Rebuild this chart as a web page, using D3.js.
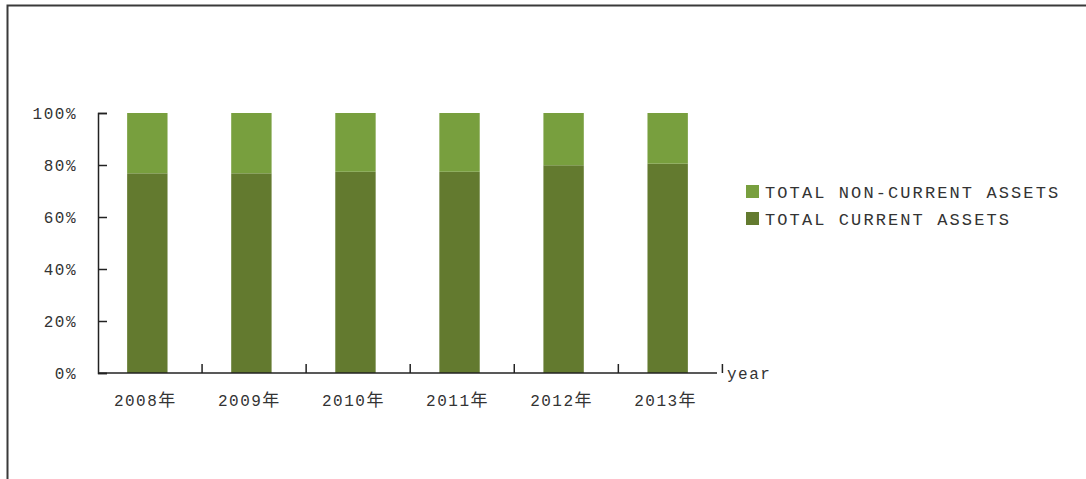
<!DOCTYPE html>
<html>
<head>
<meta charset="utf-8">
<script src="https://cdn.jsdelivr.net/npm/d3@7"></script>
<style>
  html, body { margin: 0; padding: 0; background: #fff; }
  svg { display: block; }
  .lbl { font-family: "Liberation Mono", "Cousine", "Courier New", "Liberation Serif", serif; }
  .cjk { font-family: "Noto Sans CJK SC", sans-serif; }
</style>
</head>
<body>
<svg id="chart" width="1086" height="479"></svg>
<script>
// Asset structure by year (share of total assets, %)
const years = ["2008", "2009", "2010", "2011", "2012", "2013"];
const yearSuffix = "年";
const currentAssets = [76.8, 76.8, 77.4, 77.4, 79.9, 80.5];
const nonCurrentAssets = [23.2, 23.2, 22.6, 22.6, 20.1, 19.5];
const seriesNames = ["TOTAL CURRENT ASSETS", "TOTAL NON-CURRENT ASSETS"];
const yTicks = [0, 20, 40, 60, 80, 100];

const colors = { current: "#637a2f", nonCurrent: "#789f3e" };

const svg = d3.select("#chart");

// outer frame
svg.append("rect")
  .attr("x", 7.5).attr("y", 5.5)
  .attr("width", 1100).attr("height", 500)
  .attr("fill", "none")
  .attr("stroke", "#3a3a3a")
  .attr("stroke-width", 2);

const plot = { left: 98, right: 717, top: 113, bottom: 373 };

const x = d3.scaleBand()
  .domain(years)
  .range([plot.left, plot.right])
  .paddingInner(0.612)
  .paddingOuter(0.28);

const y = d3.scaleLinear()
  .domain([0, 100])
  .range([plot.bottom, plot.top]);

const rows = years.map((yr, i) => ({
  year: yr,
  current: currentAssets[i],
  nonCurrent: nonCurrentAssets[i]
}));

const stacked = d3.stack().keys(["current", "nonCurrent"])(rows);

svg.append("g")
  .selectAll("g")
  .data(stacked)
  .join("g")
  .attr("fill", d => colors[d.key])
  .selectAll("rect")
  .data(d => d)
  .join("rect")
  .attr("x", d => x(d.data.year))
  .attr("width", x.bandwidth())
  .attr("y", d => y(d[1]))
  .attr("height", d => y(d[0]) - y(d[1]));

// y axis: ticks point inward
const yAxis = d3.axisRight(y)
  .tickValues(yTicks)
  .tickSize(9)
  .tickFormat(d => d + "%");

const gy = svg.append("g")
  .attr("transform", `translate(${plot.left},0)`)
  .call(yAxis);
gy.attr("font-family", null).attr("font-size", null);
gy.select(".domain").attr("stroke", "#222").attr("stroke-width", 1.5);
gy.selectAll(".tick line").attr("stroke", "#222").attr("stroke-width", 1.5);
gy.selectAll(".tick text")
  .attr("class", "lbl")
  .attr("x", -21)
  .attr("text-anchor", "end")
  .attr("dy", "0.35em")
  .attr("fill", "#333")
  .style("font-size", "16px")
  .style("letter-spacing", "1.5px");

// x axis line with category separator ticks pointing up
const step = x.step();
const boundaries = d3.range(1, years.length + 1).map(i => plot.left + i * step);

svg.append("line")
  .attr("x1", plot.left).attr("x2", plot.right)
  .attr("y1", plot.bottom).attr("y2", plot.bottom)
  .attr("stroke", "#222").attr("stroke-width", 1.5);

svg.append("g")
  .selectAll("line")
  .data(boundaries)
  .join("line")
  .attr("x1", d => d).attr("x2", d => d)
  .attr("y1", plot.bottom).attr("y2", plot.bottom - 9)
  .attr("stroke", "#222").attr("stroke-width", 1.5);

const xl = svg.append("g")
  .selectAll("text")
  .data(years)
  .join("text")
  .attr("class", "lbl")
  .attr("x", d => x(d) + x.bandwidth() / 2 - 2)
  .attr("y", 400)
  .attr("dy", "0.35em")
  .attr("text-anchor", "middle")
  .attr("fill", "#333")
  .style("font-size", "16px")
  .style("letter-spacing", "1.5px");
xl.append("tspan").text(d => d);
xl.append("tspan").attr("class", "cjk").style("font-size", "17px").text(yearSuffix);

svg.append("text")
  .attr("class", "lbl")
  .attr("x", 727)
  .attr("y", 373)
  .attr("dy", "0.35em")
  .attr("fill", "#333")
  .style("font-size", "16px")
  .style("letter-spacing", "1.5px")
  .text("year");

// legend (non-current listed first)
const legendItems = [
  { name: seriesNames[1], color: colors.nonCurrent },
  { name: seriesNames[0], color: colors.current }
];
const legend = svg.append("g").attr("transform", "translate(746,185)");
const li = legend.selectAll("g")
  .data(legendItems)
  .join("g")
  .attr("transform", (d, i) => `translate(0,${i * 27})`);
li.append("rect")
  .attr("width", 13).attr("height", 13)
  .attr("fill", d => d.color);
li.append("text")
  .attr("class", "lbl")
  .attr("x", 19)
  .attr("y", 7)
  .attr("dy", "0.35em")
  .attr("fill", "#333")
  .style("font-size", "17px")
  .style("letter-spacing", "2.1px")
  .text(d => d.name);
</script>
</body>
</html>
